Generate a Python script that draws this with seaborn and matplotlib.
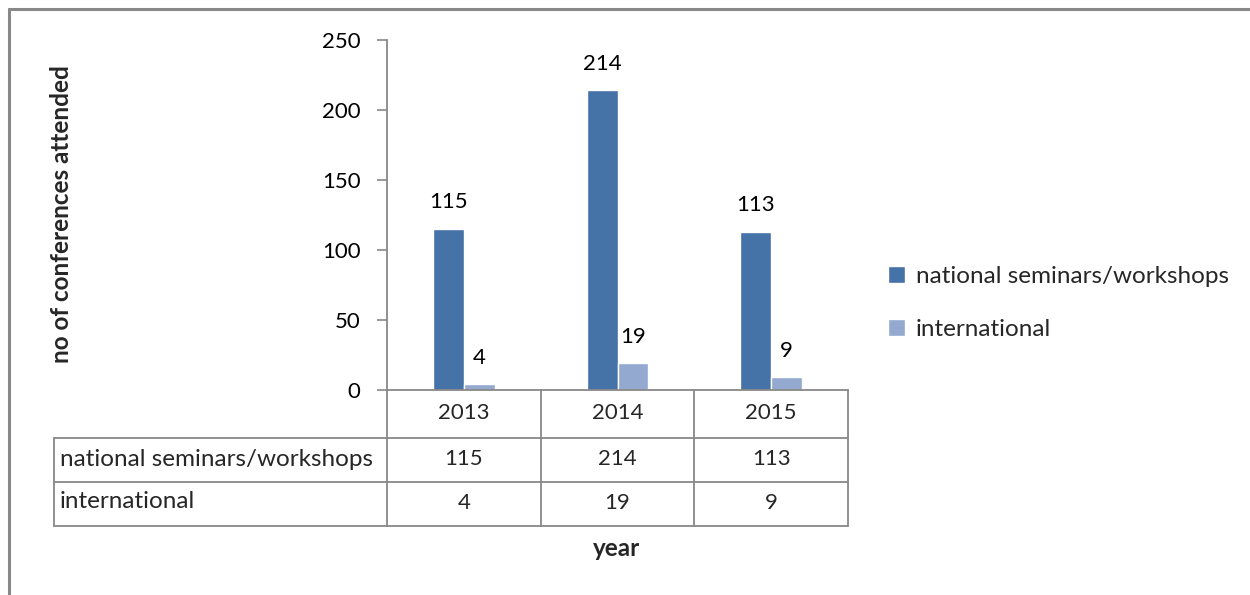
import numpy as np
import pandas as pd
import matplotlib
matplotlib.use('Agg')
import matplotlib.pyplot as plt
import matplotlib.transforms as mtrans
from matplotlib.lines import Line2D
import seaborn as sns

# dados
years = ['2013', '2014', '2015']
series = ['national seminars/workshops', 'international']
national = [115, 214, 113]
international = [4, 19, 9]
yticks = [0, 50, 100, 150, 200, 250]
colors = ['#4572A7', '#93A9CF']

df = pd.DataFrame({
    'year': years * 2,
    'series': [series[0]] * len(years) + [series[1]] * len(years),
    'count': national + international,
})

sns.set_style('white')
plt.rcParams['font.family'] = ['Lato', 'DejaVu Sans']

W, H = 1250, 595
GRAY = '#888888'
FS_NUM = 16     # números
FS_TXT = 17.5   # textos


def fx(px):
    return px / W


def fy(py):
    return 1 - py / H


fig = plt.figure(figsize=(12.5, 5.95), dpi=100)
ax = fig.add_axes([fx(387), fy(390), fx(848) - fx(387), fy(40) - fy(390)])

sns.barplot(data=df, x='year', y='count', hue='series', palette=colors,
            width=0.4, saturation=1, ax=ax)

ax.set_ylim(0, 250)
ax.set_yticks(yticks)
ax.set_xlabel('')
ax.set_ylabel('')
ax.set_xticklabels([])
ax.tick_params(axis='x', length=0)
ax.tick_params(axis='y', left=True, length=7, width=1.2, color=GRAY,
               pad=12, labelsize=FS_NUM, labelcolor='black')
for s in ['top', 'right']:
    ax.spines[s].set_visible(False)
for s in ['left', 'bottom']:
    ax.spines[s].set_color(GRAY)
    ax.spines[s].set_linewidth(1.3)

# rótulos das barras
for cont in ax.containers:
    ax.bar_label(cont, padding=12, fontsize=FS_NUM, color='black')

# legenda
handles, labels = ax.get_legend_handles_labels()
ax.get_legend().remove()
fig.legend(handles, labels, loc='center left', bbox_to_anchor=(fx(866), fy(303)),
           frameon=False, fontsize=FS_TXT, handlelength=0.7, handleheight=0.7,
           handletextpad=0.45, labelspacing=1.3)

# tabela de dados abaixo do gráfico
tr = mtrans.blended_transform_factory(ax.transData, fig.transFigure)
row_y = [390, 438, 482, 526]
for y in row_y[1:]:
    fig.add_artist(Line2D([fx(54), fx(848)], [fy(y), fy(y)], color=GRAY, lw=1.3))
fig.add_artist(Line2D([fx(54), fx(54)], [fy(438), fy(526)], color=GRAY, lw=1.3))
for i in range(len(years) + 1):
    ax.add_artist(Line2D([i - 0.5, i - 0.5], [fy(390), fy(526)], color=GRAY,
                         lw=1.3, transform=tr, clip_on=False))

for i, yr in enumerate(years):
    ax.text(i, fy(413), yr, transform=tr, ha='center', va='center', fontsize=FS_NUM)
    ax.text(i, fy(459), str(national[i]), transform=tr, ha='center', va='center', fontsize=FS_NUM)
    ax.text(i, fy(503), str(international[i]), transform=tr, ha='center', va='center', fontsize=FS_NUM)
fig.text(fx(60), fy(459), series[0], ha='left', va='center', fontsize=FS_TXT)
fig.text(fx(60), fy(502), series[1], ha='left', va='center', fontsize=FS_TXT)

# títulos dos eixos
fig.text(fx(62), fy(214), 'no of conferences attended', rotation=90,
         ha='center', va='center', fontsize=FS_TXT, fontweight='bold')
fig.text(fx(617), fy(549), 'year', ha='center', va='center',
         fontsize=FS_TXT, fontweight='bold')

# moldura
fig.add_artist(Line2D([fx(9), 1], [fy(9), fy(9)], color=GRAY, lw=2.2))
fig.add_artist(Line2D([fx(9), fx(9)], [fy(9), 0], color=GRAY, lw=2.2))

fig.savefig('out.png', dpi=100)
